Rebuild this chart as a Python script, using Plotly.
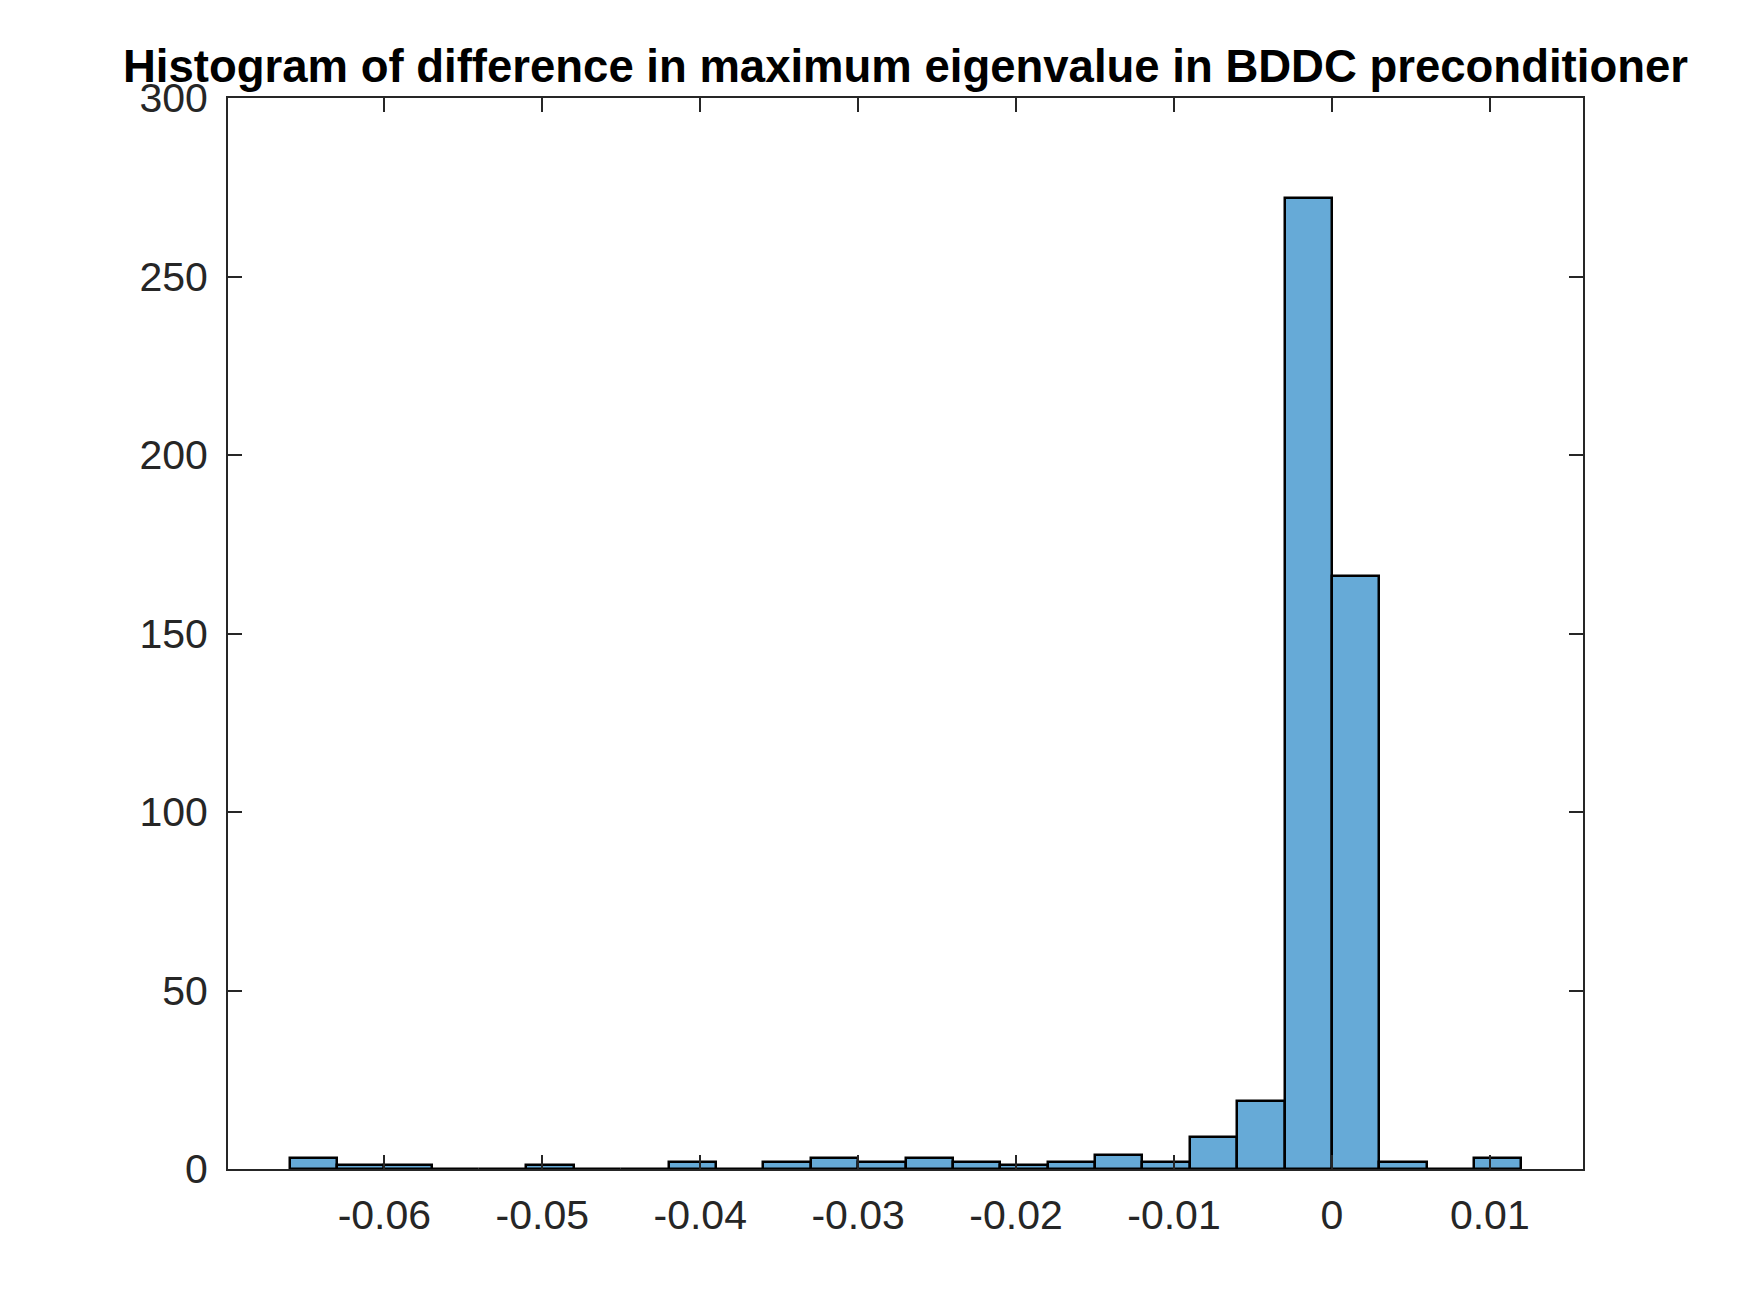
import numpy as np
import plotly.graph_objects as go

# histogram bins (MATLAB-style auto binning, width 0.003)
bin_start = -0.066
bin_width = 0.003
counts = [3, 1, 1, 0, 0, 1, 0, 0, 2, 0, 2, 3, 2,
          3, 2, 1, 2, 4, 2, 9, 19, 272, 166, 2, 0, 3]

x_ticks = [-0.06, -0.05, -0.04, -0.03, -0.02, -0.01, 0, 0.01]
x_tick_labels = ["-0.06", "-0.05", "-0.04", "-0.03", "-0.02", "-0.01", "0", "0.01"]
y_ticks = [0, 50, 100, 150, 200, 250, 300]

centers = bin_start + bin_width * (np.arange(len(counts)) + 0.5)

fig = go.Figure()
fig.add_trace(go.Bar(
    x=centers,
    y=counts,
    width=bin_width,
    marker=dict(color="#66AAD7", line=dict(color="black", width=2.5)),
    hoverinfo="x+y",
))

axis_col = "#262626"
fig.update_xaxes(
    range=[-0.0699, 0.0159],
    tickvals=x_ticks, ticktext=x_tick_labels,
    ticks="inside", ticklen=14, tickwidth=2, tickcolor=axis_col,
    showline=True, linecolor=axis_col, linewidth=2, mirror="ticks",
    showgrid=False, zeroline=False,
    tickfont=dict(size=41, color=axis_col),
    ticklabelstandoff=9,
)
fig.update_yaxes(
    range=[0, 300],
    tickvals=y_ticks,
    ticks="inside", ticklen=14, tickwidth=2, tickcolor=axis_col,
    showline=True, linecolor=axis_col, linewidth=2, mirror="ticks",
    showgrid=False, zeroline=False,
    tickfont=dict(size=41, color=axis_col),
    ticklabelstandoff=10,
)

# page body adds an 8px margin, so the figure is a bit smaller than the window
fig.update_layout(
    width=1742, height=1305,
    margin=dict(l=220, r=167, t=90, b=144),
    paper_bgcolor="white", plot_bgcolor="white",
    font=dict(family="Arial, Liberation Sans, sans-serif"),
    bargap=0,
    showlegend=False,
    title=dict(
        text="<b>Histogram of difference in maximum eigenvalue in BDDC preconditioner</b>",
        font=dict(size=45.5, color="black"),
        x=0.5, xref="paper", xanchor="center",
        y=1 - 74 / 1305, yref="container", yanchor="bottom",
    ),
)

fig.write_html("out.html")
